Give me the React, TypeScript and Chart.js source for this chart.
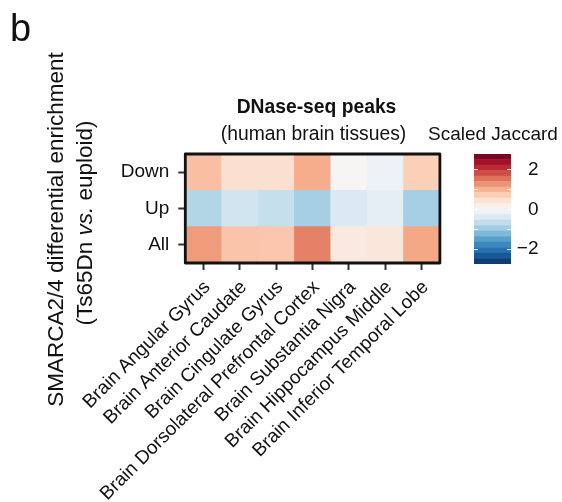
import React, { useEffect, useRef } from "react";
import { Chart, registerables } from "chart.js";

Chart.register(...registerables);

const FONT = '"Liberation Sans", Arial, Helvetica, sans-serif';

// ---- data ----
const tissues = [
  "Brain Angular Gyrus",
  "Brain Anterior Caudate",
  "Brain Cingulate Gyrus",
  "Brain Dorsolateral Prefrontal Cortex",
  "Brain Substantia Nigra",
  "Brain Hippocampus Middle",
  "Brain Inferior Temporal Lobe",
];
const rowLabels = ["All", "Up", "Down"]; // bottom to top
const downValues = [0.84, 0.46, 0.46, 1.03, 0.03, -0.18, 0.67];
const upValues = [-0.82, -0.56, -0.66, -0.94, -0.41, -0.27, -0.94];
const allValues = [1.19, 0.79, 0.76, 1.4, 0.28, 0.32, 1.08];
const legendTicks = [-2, 0, 2];
const legendMarks = [-2, -1, 0, 1, 2];
const scaleMin = -2.78;
const scaleMax = 2.78;
const legendBandCount = 20;
const RDBU = [
  "#053061", "#2166ac", "#4393c3", "#92c5de", "#d1e5f0", "#f7f7f7",
  "#fddbc7", "#f4a582", "#d6604d", "#b2182b", "#67001f",
];

function hexToRgb(h: string) {
  const n = parseInt(h.slice(1), 16);
  return [(n >> 16) & 255, (n >> 8) & 255, n & 255];
}
function colorFor(v: number) {
  const t = Math.min(1, Math.max(0, (v - scaleMin) / (scaleMax - scaleMin)));
  const p = t * (RDBU.length - 1);
  const i = Math.min(Math.floor(p), RDBU.length - 2);
  const f = p - i;
  const a = hexToRgb(RDBU[i]);
  const b = hexToRgb(RDBU[i + 1]);
  const c = a.map((x, k) => Math.round(x + (b[k] - x) * f));
  return `rgb(${c[0]},${c[1]},${c[2]})`;
}

const TEXT = "#111";

const textPlugin = {
  id: "texts",
  afterDraw(chart: any) {
    const ctx = chart.ctx as CanvasRenderingContext2D;
    const a = chart.chartArea;
    const xs = chart.scales.x;
    ctx.save();
    // frame
    ctx.strokeStyle = "#111";
    ctx.lineWidth = 2.8;
    ctx.lineJoin = "round";
    ctx.strokeRect(a.left, a.top, a.right - a.left, a.bottom - a.top);

    // rotated x labels (top-right corner anchored under each tick)
    ctx.fillStyle = TEXT;
    ctx.font = `19px ${FONT}`;
    ctx.textAlign = "right";
    ctx.textBaseline = "alphabetic";
    tissues.forEach((t, i) => {
      const px = xs.getPixelForTick(i);
      ctx.save();
      ctx.translate(px + 7.5, a.bottom + 25);
      ctx.rotate(-Math.PI / 4);
      ctx.fillText(t, 0, 0);
      ctx.restore();
    });

    ctx.textAlign = "left";
    ctx.font = `38px ${FONT}`;
    ctx.fillText("b", 10, 41);

    ctx.textAlign = "center";
    ctx.font = `bold 19.3px ${FONT}`;
    ctx.fillText("DNase-seq peaks", 316.5, 112.5);
    ctx.font = `19.3px ${FONT}`;
    ctx.fillText("(human brain tissues)", 313.5, 140);
    ctx.textAlign = "left";
    ctx.font = `19px ${FONT}`;
    ctx.fillText("Scaled Jaccard", 428, 140);

    // y-axis title, two lines
    ctx.save();
    ctx.translate(63, 229.5);
    ctx.rotate(-Math.PI / 2);
    ctx.textAlign = "center";
    ctx.font = `22.5px ${FONT}`;
    ctx.fillText("SMARCA2/4 differential enrichment", 0, 0);
    ctx.restore();

    ctx.save();
    ctx.translate(91.5, 223);
    ctx.rotate(-Math.PI / 2);
    ctx.textAlign = "left";
    const segs: [string, string][] = [
      ["(Ts65Dn ", `22.5px ${FONT}`],
      ["vs.", `italic 22.5px ${FONT}`],
      [" euploid)", `22.5px ${FONT}`],
    ];
    let total = 0;
    const widths = segs.map(([t, f]) => {
      ctx.font = f;
      const w = ctx.measureText(t).width;
      total += w;
      return w;
    });
    let x = -total / 2;
    segs.forEach(([t, f], i) => {
      ctx.font = f;
      ctx.fillText(t, x, 0);
      x += widths[i];
    });
    ctx.restore();
    ctx.restore();
  },
};

const marksPlugin = {
  id: "marks",
  afterDatasetsDraw(chart: any) {
    const ctx = chart.ctx as CanvasRenderingContext2D;
    const a = chart.chartArea;
    const y = chart.scales.y;
    ctx.save();
    ctx.strokeStyle = "rgba(255,255,255,0.9)";
    ctx.lineWidth = 1;
    legendMarks.forEach((v) => {
      const py = Math.round(y.getPixelForValue(v)) + 0.5;
      ctx.beginPath();
      ctx.moveTo(a.left, py);
      ctx.lineTo(a.left + 4, py);
      ctx.moveTo(a.right - 4, py);
      ctx.lineTo(a.right, py);
      ctx.stroke();
    });
    // tick labels, right aligned
    ctx.fillStyle = TEXT;
    ctx.font = `19px ${FONT}`;
    ctx.textAlign = "right";
    ctx.textBaseline = "middle";
    legendTicks.forEach((v) => {
      const label = v < 0 ? "\u2212" + Math.abs(v) : String(v);
      ctx.fillText(label, 538.5, y.getPixelForValue(v) + 0.5);
    });
    ctx.restore();
  },
};

export default function App() {
  const mainRef = useRef<HTMLCanvasElement | null>(null);
  const barRef = useRef<HTMLCanvasElement | null>(null);

  useEffect(() => {
    Chart.defaults.font.family = FONT;
    const rows = [allValues, upValues, downValues];
    const tickGrid = {
      display: true,
      drawOnChartArea: false,
      drawTicks: true,
      tickLength: 7,
      tickColor: "#333",
      tickWidth: 2,
      offset: false,
    };
    const main = new Chart(mainRef.current!, {
      type: "bar",
      data: {
        labels: tissues,
        datasets: rows.map((vals, r) => ({
          label: rowLabels[r],
          data: vals.map(() => 1),
          backgroundColor: vals.map((v) => colorFor(v)),
          borderWidth: 0,
          barPercentage: 1,
          categoryPercentage: 1,
        })),
      },
      options: {
        responsive: false,
        animation: false,
        devicePixelRatio: 1,
        layout: { padding: { left: 0, top: 154, right: 122.1, bottom: 0 } },
        plugins: {
          legend: { display: false },
          tooltip: { enabled: false },
          title: { display: false },
        },
        scales: {
          x: {
            type: "category",
            stacked: true,
            offset: true,
            grid: tickGrid as any,
            border: { display: false },
            ticks: {
              display: false,
              autoSkip: false,
            },
            afterFit: (s: any) => {
              s.height = 239;
            },
          },
          y: {
            type: "linear",
            stacked: true,
            min: 0,
            max: 3,
            grid: tickGrid as any,
            border: { display: false },
            afterBuildTicks: (s: any) => {
              s.ticks = [{ value: 0.5 }, { value: 1.5 }, { value: 2.5 }];
            },
            ticks: {
              padding: 9,
              color: TEXT,
              font: { size: 19, family: FONT },
              callback: (v: any) => rowLabels[Math.floor(Number(v))],
            },
            afterFit: (s: any) => {
              s.width = 185.3;
            },
          },
        },
      },
      plugins: [textPlugin],
    });

    const step = (scaleMax - scaleMin) / legendBandCount;
    const bands = Array.from({ length: legendBandCount }, (_, i) => {
      const lo = scaleMin + i * step;
      return [lo, lo + step];
    });
    const bar = new Chart(barRef.current!, {
      type: "bar",
      data: {
        labels: ["scale"],
        datasets: bands.map((b) => ({
          data: [b as any],
          backgroundColor: colorFor((b[0] + b[1]) / 2),
          borderWidth: 0,
          barPercentage: 1,
          categoryPercentage: 1,
          grouped: false,
        })),
      },
      options: {
        responsive: false,
        animation: false,
        devicePixelRatio: 1,
        layout: { padding: { left: 474, top: 154, right: 11, bottom: 238 } },
        plugins: { legend: { display: false }, tooltip: { enabled: false } },
        scales: {
          x: { display: false, stacked: true },
          y: {
            type: "linear",
            position: "right",
            min: scaleMin,
            max: scaleMax,
            grid: { display: false, drawTicks: false },
            border: { display: false },
            ticks: { display: false },
            afterFit: (s: any) => {
              s.width = 40;
            },
          },
        },
      },
      plugins: [marksPlugin],
    });

    return () => {
      main.destroy();
      bar.destroy();
    };
  }, []);

  return (
    <div style={{ position: "absolute", left: 0, top: 0, width: 562, height: 502 }}>
      <canvas
        ref={mainRef}
        width={562}
        height={502}
        style={{ position: "absolute", left: 0, top: 0 }}
      />
      <canvas
        ref={barRef}
        width={562}
        height={502}
        style={{ position: "absolute", left: 0, top: 0 }}
      />
    </div>
  );
}
